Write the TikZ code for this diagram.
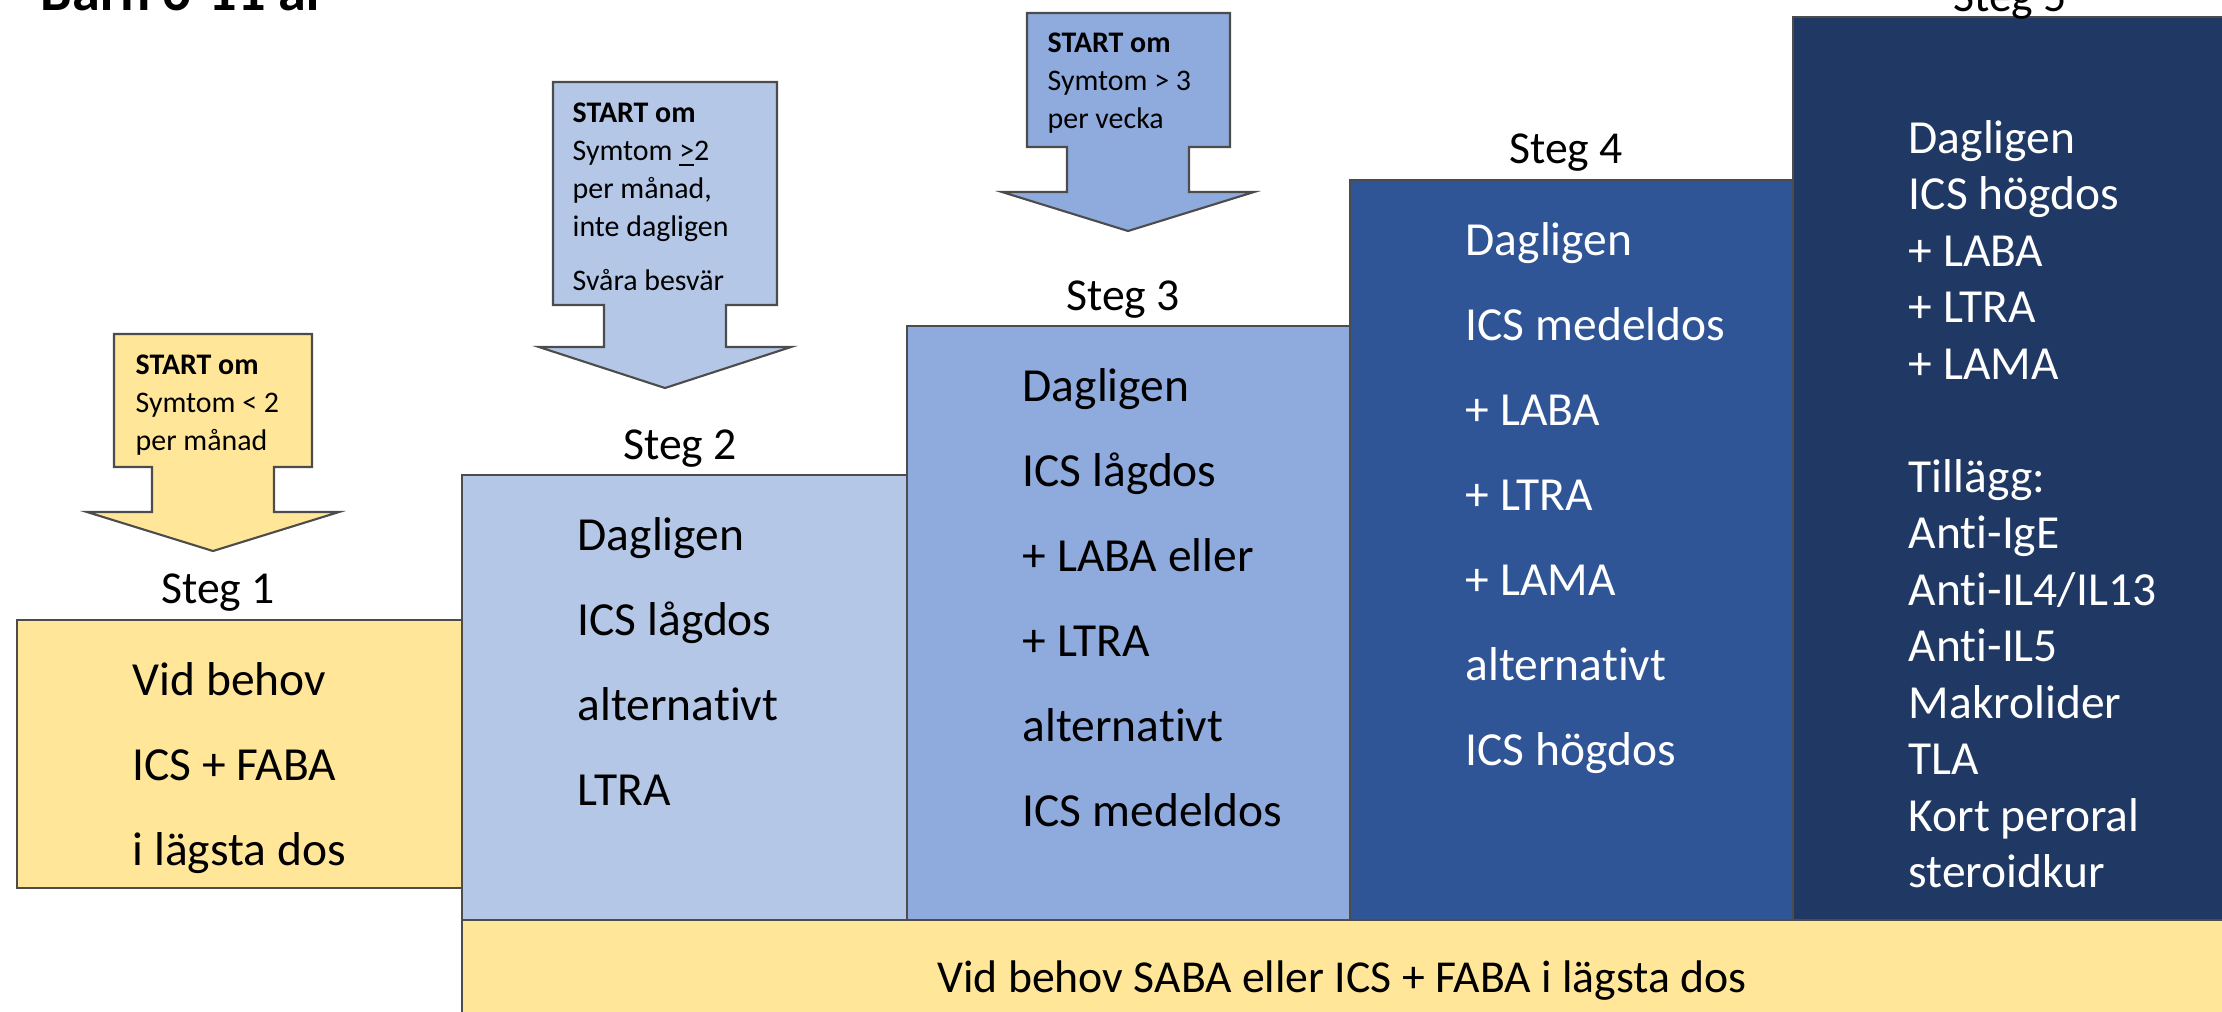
\documentclass[tikz,border=0pt]{standalone}
\usepackage{fontspec}
\setmainfont{Carlito}[Ligatures=NoCommon]
\usepackage{tikz}
\definecolor{stegyellow}{HTML}{FFE699}
\definecolor{steglight}{HTML}{B4C7E7}
\definecolor{stegmid}{HTML}{8FAADC}
\definecolor{stegdark}{HTML}{2F5597}
\definecolor{stegnavy}{HTML}{203864}

\begin{document}
\begin{tikzpicture}[x=0.01cm, y=-0.01cm,
  stegbox/.style={draw=black!70, line width=0.6pt},
  boxtext/.style={anchor=base west, inner sep=0pt, font=\fontsize{13.5}{16}\selectfont},
  steglabel/.style={anchor=base, inner sep=0pt, font=\fontsize{13}{16}\selectfont},
  starttext/.style={anchor=base west, inner sep=0pt, font=\fontsize{8.5}{10}\selectfont}]
  \useasboundingbox (0,0) rectangle (2222,1011);
  \clip (0,0) rectangle (2222,1011);
  \node[anchor=base west, inner sep=0pt, font=\fontsize{16}{19}\selectfont\bfseries] (title) at (40,10) {Barn 6-11 år};

  % trappsteg
  \filldraw[stegbox, fill=stegyellow] (17,620) rectangle (462,888);
  \filldraw[stegbox, fill=steglight] (462,475) rectangle (907,920);
  \filldraw[stegbox, fill=stegmid] (907,326) rectangle (1350,920);
  \filldraw[stegbox, fill=stegdark] (1350,180) rectangle (1793,920);
  \filldraw[stegbox, fill=stegnavy] (1793,17) rectangle (2240,920);
  \filldraw[stegbox, fill=stegyellow] (462,920) rectangle (2240,1030);

  \node[steglabel] (steg1) at (218,603) {Steg 1};
  \node[steglabel] (steg2) at (680,459) {Steg 2};
  \node[steglabel] (steg3) at (1123,310) {Steg 3};
  \node[steglabel] (steg4) at (1566,163) {Steg 4};
  \node[steglabel] (steg5) at (2010,11) {Steg 5};

  \foreach \t [count=\i from 0] in {Vid behov, ICS + FABA, i lägsta dos}
    \node[boxtext] (s1t\i) at (132,695+85*\i) {\t};
  \foreach \t [count=\i from 0] in {Dagligen, ICS lågdos, alternativt, LTRA}
    \node[boxtext] (s2t\i) at (577,550+85*\i) {\t};
  \foreach \t [count=\i from 0] in {Dagligen, ICS lågdos, + LABA eller, + LTRA, alternativt, ICS medeldos}
    \node[boxtext] (s3t\i) at (1022,401+85*\i) {\t};
  \foreach \t [count=\i from 0] in {Dagligen, ICS medeldos, + LABA, + LTRA, + LAMA, alternativt, ICS högdos}
    \node[boxtext, text=white] (s4t\i) at (1465,255+85*\i) {\t};
  \foreach \t [count=\i from 0] in {Dagligen, ICS högdos, + LABA, + LTRA, + LAMA}
    \node[boxtext, text=white] (s5t\i) at (1908,153+56.5*\i) {\t};
  \foreach \t [count=\i from 6] in {Tillägg:, Anti-IgE, {Anti-IL4/IL13}, Anti-IL5, Makrolider, TLA, Kort peroral, steroidkur}
    \node[boxtext, text=white] (s5t\i) at (1908,153+56.5*\i) {\t};

  \node[anchor=base, inner sep=0pt, font=\fontsize{13}{16}\selectfont] (bastext) at (1342,992) {Vid behov SABA eller ICS + FABA i lägsta dos};

  % startpilar
  \filldraw[stegbox, fill=stegyellow] (114,334) -- (312,334) -- (312,467) -- (274,467) -- (274,512) -- (339,512) -- (213,551) -- (87,512) -- (152,512) -- (152,467) -- (114,467) -- cycle;
  \foreach \t [count=\i from 0] in {\textbf{START om}, Symtom < 2, per månad}
    \node[starttext] (p1t\i) at (135,374+38*\i) {\t};

  \filldraw[stegbox, fill=steglight] (553,82) -- (777,82) -- (777,305) -- (726,305) -- (726,347) -- (791,347) -- (665,388) -- (539,347) -- (604,347) -- (604,305) -- (553,305) -- cycle;
  \foreach \t [count=\i from 0] in {\textbf{START om}, Symtom \underline{>}2, {per månad,}, inte dagligen}
    \node[starttext] (p2t\i) at (572,122+38*\i) {\t};
  \node[starttext] (p2t4) at (572,290) {Svåra besvär};

  \filldraw[stegbox, fill=stegmid] (1027,13) -- (1230,13) -- (1230,147) -- (1189,147) -- (1189,192) -- (1254,192) -- (1128,231) -- (1002,192) -- (1067,192) -- (1067,147) -- (1027,147) -- cycle;
  \foreach \t [count=\i from 0] in {\textbf{START om}, Symtom > 3, per vecka}
    \node[starttext] (p3t\i) at (1047,52+38*\i) {\t};
\end{tikzpicture}
\end{document}
